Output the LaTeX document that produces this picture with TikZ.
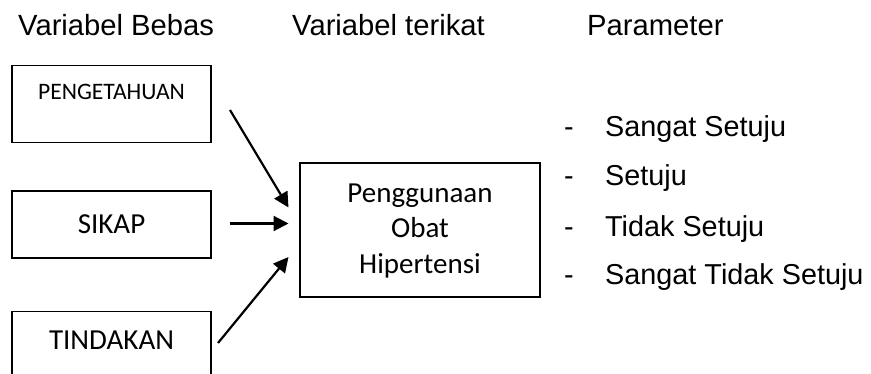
\documentclass[tikz,border=0pt]{standalone}
\usepackage{fontspec}
\setmainfont{Liberation Sans}
\newfontfamily\calfont{Carlito}
\usetikzlibrary{arrows.meta}
\begin{document}
\begin{tikzpicture}[x=1pt,y=-1pt,
  box/.style={draw, line width=1.3pt, inner sep=0pt, minimum width=199pt},
  head/.style={anchor=base west, inner sep=0pt, font=\fontsize{29.2}{34}\selectfont},
  item/.style={anchor=base west, inner sep=0pt, font=\fontsize{28.8}{34}\selectfont},
  boxtext/.style={inner sep=0pt, font=\calfont\fontsize{29}{35.4}\selectfont},
  conn/.style={line width=2.2pt, -{Triangle[length=15pt,width=15pt]}}]
\useasboundingbox (0,0) rectangle (871,374);
\clip (0,0) rectangle (871,374);
\fill[white] (0,0) rectangle (871,374);
% headings
\node[head] (h1) at (18,36) {Variabel Bebas};
\node[head] (h2) at (292,36) {Variabel terikat};
\node[head] (h3) at (587,36) {Parameter};
% left boxes
\node[box, minimum height=77pt, anchor=north] (peng) at (111.5,65) {};
\node[boxtext, anchor=base, font=\calfont\fontsize{23.6}{28}\selectfont] (pengt) at (111.5,100) {PENGETAHUAN};
\node[box, minimum height=67pt] (sikap) at (111.5,224.5) {};
\node[boxtext, anchor=base] (sikapt) at (111.5,234) {SIKAP};
\node[box, minimum height=90pt, anchor=north] (tind) at (111.5,311) {};
\node[boxtext, anchor=base] (tindt) at (111.5,350) {TINDAKAN};
% main box
\node[draw, line width=1.3pt, minimum width=240pt, minimum height=134pt] (main) at (420,230) {};
\node[boxtext, align=center] (maint) at (420,231) {Penggunaan\\Obat\\Hipertensi};
% arrows
\coordinate (a1s) at (230,110);
\coordinate (a1e) at (288.5,207.5);
\coordinate (a2s) at (230,223.5);
\coordinate (a2e) at (288.5,223.5);
\coordinate (a3s) at (218,343);
\coordinate (a3e) at (288.5,257);
\draw[conn] (a1s) -- (a1e);
\draw[conn] (a2s) -- (a2e);
\draw[conn] (a3s) -- (a3e);
% list
\node[item] (d1) at (564,137) {-};
\node[item] (i1) at (605,137) {Sangat Setuju};
\node[item] (d2) at (564,186) {-};
\node[item] (i2) at (605,186) {Setuju};
\node[item] (d3) at (564,237) {-};
\node[item] (i3) at (605,237) {Tidak Setuju};
\node[item] (d4) at (564,285) {-};
\node[item] (i4) at (605,285) {Sangat Tidak Setuju};
\end{tikzpicture}
\end{document}
